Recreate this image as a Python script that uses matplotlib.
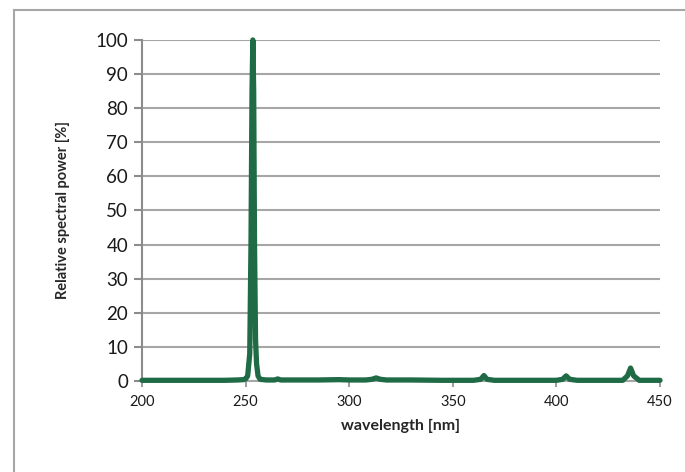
import matplotlib.pyplot as plt
from matplotlib.lines import Line2D

# wavelength [nm] and relative spectral power [%]
wavelength = [200, 210, 220, 230, 240, 246, 249, 250, 251, 252, 252.6, 253.1,
              253.5, 253.9, 254.3, 254.8, 255.3, 256, 257, 260, 264, 265.5,
              267, 275, 285, 295, 300, 308, 311, 313, 315, 318, 330, 345,
              360, 363.5, 365, 366.5, 370, 390, 400, 403, 404.7, 406.4, 410,
              425, 432, 434.3, 435.8, 437.3, 440, 450]
power = [0.2, 0.2, 0.2, 0.2, 0.2, 0.3, 0.4, 0.6, 1.5, 8, 40, 85,
         100, 85, 40, 12, 5, 1.5, 0.5, 0.3, 0.3, 0.6,
         0.3, 0.3, 0.3, 0.4, 0.3, 0.3, 0.5, 0.9, 0.5, 0.3, 0.3, 0.2,
         0.2, 0.5, 1.6, 0.5, 0.2, 0.2, 0.2, 0.5, 1.5, 0.5, 0.2,
         0.2, 0.2, 1.5, 3.8, 1.5, 0.2, 0.2]

xticks = [200, 250, 300, 350, 400, 450]
yticks = list(range(0, 101, 10))

plt.rcParams['font.family'] = ['Lato', 'DejaVu Sans']

fig = plt.figure(figsize=(6.85, 4.72), dpi=100)
ax = fig.add_axes([0.2073, 0.1928, 0.7562, 0.7225])

# chart border
grey = '#a6a6a6'
fig.add_artist(Line2D([14 / 685, 14 / 685], [0, 1 - 10 / 472], color=grey, lw=1.5))
fig.add_artist(Line2D([14 / 685, 1], [1 - 10 / 472, 1 - 10 / 472], color=grey, lw=1.5))

ax.plot(wavelength, power, color='#1e6b45', lw=3.8, solid_capstyle='round',
        solid_joinstyle='round', zorder=3, clip_on=False)

ax.set_xlim(200, 450)
ax.set_ylim(0, 100)
ax.set_xticks(xticks)
ax.set_yticks(yticks)
ax.yaxis.grid(True, color=grey, lw=1.5)
ax.set_axisbelow(True)

for s in ['top', 'right']:
    ax.spines[s].set_visible(False)
ax.spines['left'].set_color('#8c8c8c')
ax.spines['left'].set_linewidth(1.5)
ax.spines['bottom'].set_color(grey)
ax.spines['bottom'].set_linewidth(1.5)

ax.tick_params(axis='y', length=6, width=1.5, color='#8c8c8c', labelsize=13.5,
               pad=4, labelcolor='#1a1a1a')
ax.tick_params(axis='x', length=4, width=1.2, color='#8c8c8c', labelsize=10.5,
               pad=6, labelcolor='#1a1a1a')

ax.set_xlabel('wavelength [nm]', fontsize=11.5, fontweight='bold', color='#262626',
              labelpad=7)
ax.set_ylabel('Relative spectral power [%]', fontsize=10.5, fontweight='bold',
              color='#262626', labelpad=18)

fig.savefig('out.png', dpi=100)
